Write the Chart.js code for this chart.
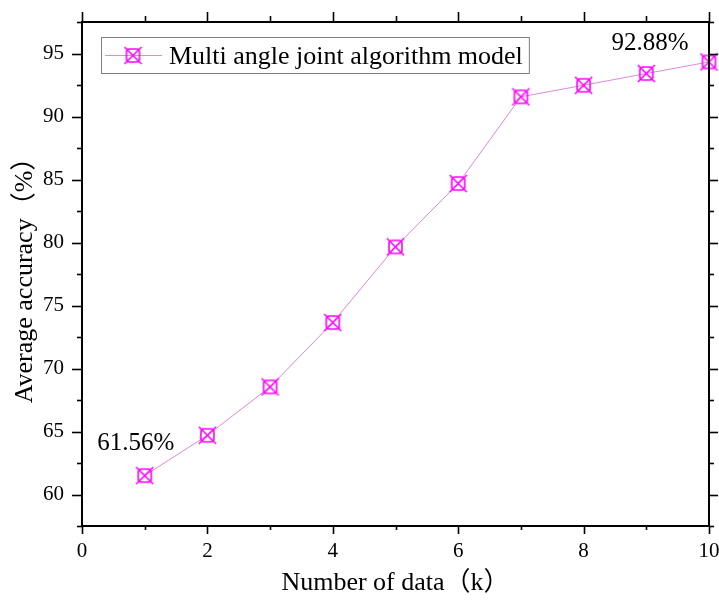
<!DOCTYPE html>
<html>
<head>
<meta charset="utf-8">
<script src="https://cdn.jsdelivr.net/npm/chart.js@4.4.0/dist/chart.umd.min.js"></script>
<style>
  body { margin: 0; background: #fff; }
  #wrap { width: 719px; height: 603px; }
</style>
</head>
<body>
<div id="wrap"><canvas id="accChart"></canvas></div>
<script>
// data
const dataSizes = [1, 2, 3, 4, 5, 6, 7, 8, 9, 10];
const accuracy = [61.5, 64.7, 68.54, 73.65, 79.65, 84.68, 91.56, 92.48, 93.41, 94.33];
const seriesName = 'Multi angle joint algorithm model';
const endLabels = ['61.56%', '92.88%'];
const xTitle = 'Number of data（k）';
const yTitle = 'Average accuracy（%）';

const FONT = "'Liberation Serif', 'Noto Sans CJK SC', serif";
const MAGENTA = '#ff00ff';
const LINE = '#dd88dd';

// square-with-cross marker, like the Origin symbol
function makeMarker() {
    const c = document.createElement('canvas');
    c.width = 19; c.height = 19;
    const g = c.getContext('2d');
    g.strokeStyle = MAGENTA;
    g.lineWidth = 1.6;
    g.beginPath();
    g.roundRect(3, 3, 13, 13, 3);
    g.stroke();
    g.beginPath();
    g.moveTo(1, 1); g.lineTo(18, 18);
    g.moveTo(18, 1); g.lineTo(1, 18);
    g.stroke();
    return c;
}
const marker = makeMarker();

// axes frame with Origin-style outward ticks on all four sides
const framePlugin = {
    id: 'frame',
    afterDraw(chart) {
        const {ctx, chartArea: a, scales: {x, y}} = chart;
        ctx.save();
        ctx.strokeStyle = '#000';
        const seg = (x1, y1, x2, y2) => { ctx.beginPath(); ctx.moveTo(x1, y1); ctx.lineTo(x2, y2); ctx.stroke(); };
        ctx.lineWidth = 1.6;
        x.ticks.forEach(t => {
            const px = Math.round(x.getPixelForValue(t.value)) + 0.5;
            const major = t.value % 2 === 0;
            seg(px, a.bottom, px, a.bottom + (major ? 8 : 4));
            seg(px, a.top, px, a.top - (major ? 10 : 6));
        });
        y.ticks.forEach(t => {
            const py = Math.round(y.getPixelForValue(t.value)) + 0.5;
            const major = Math.abs(t.value % 5) < 1e-6;
            seg(a.left, py, a.left - (major ? 10 : 5), py);
            seg(a.right, py, a.right + (major ? 9 : 5), py);
        });
        ctx.lineWidth = 2;
        ctx.strokeRect(a.left, a.top, a.right - a.left, a.bottom - a.top);
        ctx.restore();
    }
};

// legend box inside the plot, and the two value notes
const notesPlugin = {
    id: 'notes',
    afterDatasetsDraw(chart) {
        const {ctx, chartArea: a} = chart;
        const pts = chart.getDatasetMeta(0).data;
        ctx.save();
        ctx.fillStyle = '#000';
        ctx.font = '25px ' + FONT;
        ctx.textAlign = 'center';
        ctx.textBaseline = 'alphabetic';
        const first = pts[0], last = pts[pts.length - 1];
        ctx.fillText(endLabels[0], first.x - 9, first.y - 26);
        ctx.fillText(endLabels[1], last.x - 59, last.y - 12);

        // legend
        const bx = a.left + 19, by = a.top + 15;
        ctx.font = '26px ' + FONT;
        ctx.textAlign = 'left';
        const tw = ctx.measureText(seriesName).width;
        ctx.strokeStyle = '#808080';
        ctx.lineWidth = 1;
        ctx.strokeRect(bx + 0.5, by + 0.5, 68 + tw + 6, 36);
        ctx.strokeStyle = LINE;
        ctx.beginPath();
        ctx.moveTo(bx + 4, by + 18.5);
        ctx.lineTo(bx + 61, by + 18.5);
        ctx.stroke();
        ctx.drawImage(marker, bx + 32 - 9.5, by + 18.5 - 9.5);
        ctx.fillText(seriesName, bx + 68, by + 27);
        ctx.restore();
    }
};

const ctxAcc = document.getElementById('accChart').getContext('2d');
const accChart = new Chart(ctxAcc, {
    type: 'line',
    data: {
        datasets: [{
            label: seriesName,
            data: dataSizes.map((v, i) => ({x: v, y: accuracy[i]})),
            borderColor: LINE,
            borderWidth: 1,
            pointStyle: marker,
            pointRadius: 9,
            tension: 0,
            clip: false
        }]
    },
    options: {
        responsive: true,
        maintainAspectRatio: false,
        animation: false,
        layout: { padding: { top: 22, right: 10, left: 0, bottom: 0 } },
        plugins: {
            legend: { display: false },
            tooltip: { enabled: false }
        },
        scales: {
            x: {
                type: 'linear',
                min: 0,
                max: 10,
                grid: { display: false, drawTicks: true, tickLength: 8 },
                border: { display: false },
                ticks: {
                    stepSize: 1,
                    autoSkip: false,
                    maxRotation: 0,
                    padding: 5,
                    color: '#000',
                    font: { family: FONT, size: 21 },
                    callback: v => (v % 2 === 0 ? v : '')
                },
                title: {
                    display: true,
                    text: xTitle,
                    color: '#000',
                    font: { family: FONT, size: 26 },
                    padding: { top: 0, bottom: 4 }
                },
                afterFit(scale) {
                    scale.height = 77;
                    scale.paddingLeft = 0;
                    scale.paddingRight = 0;
                }
            },
            y: {
                min: 57.5,
                max: 97.5,
                grid: { display: false, drawTicks: true, tickLength: 10 },
                border: { display: false },
                ticks: {
                    stepSize: 2.5,
                    autoSkip: false,
                    padding: 8,
                    color: '#000',
                    font: { family: FONT, size: 21 },
                    callback: v => (Math.abs(v % 5) < 1e-6 ? v : '')
                },
                title: {
                    display: true,
                    text: yTitle,
                    color: '#000',
                    font: { family: FONT, size: 26 },
                    padding: { top: 10, bottom: 0 }
                },
                afterFit(scale) {
                    scale.width = 82;
                    scale.paddingTop = 0;
                    scale.paddingBottom = 0;
                }
            }
        }
    },
    plugins: [framePlugin, notesPlugin]
});
</script>
</body>
</html>
